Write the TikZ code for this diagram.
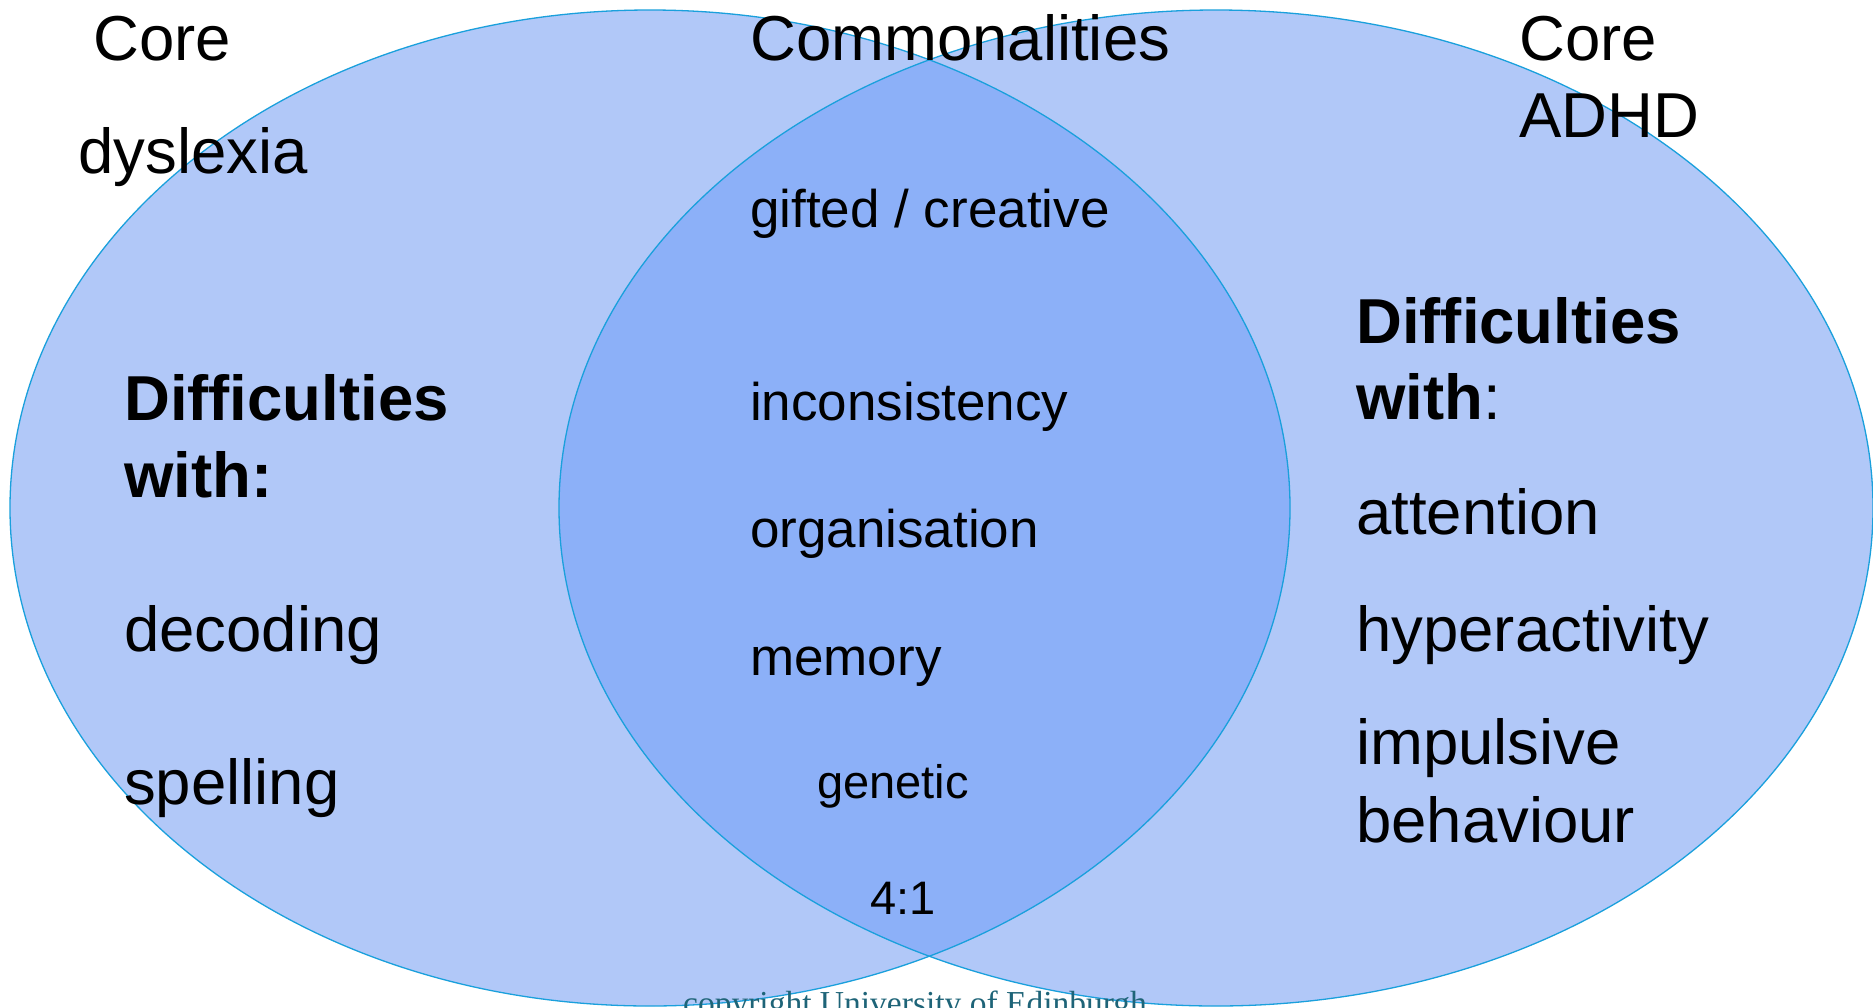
\documentclass[tikz,border=0pt]{standalone}
\usepackage{fontspec}
\setmainfont{Liberation Sans}
\newfontfamily\copyfont{Liberation Serif}
\definecolor{vennfill}{RGB}{177,200,248}
\definecolor{vennmid}{RGB}{140,176,248}
\definecolor{vennline}{RGB}{26,160,220}
\definecolor{copyteal}{RGB}{30,100,120}
\begin{document}
\begin{tikzpicture}[x=1pt,y=-1pt,
  txt/.style={anchor=base west, inner sep=0pt, text=black},
  big/.style={txt, font=\fontsize{63.5}{76}\selectfont},
  bigbold/.style={txt, font=\fontsize{63.5}{76}\selectfont\bfseries},
  mid/.style={txt, font=\fontsize{53}{64}\selectfont},
  small/.style={txt, font=\fontsize{47}{56}\selectfont},
  outline/.style={draw=vennline, line width=1.3pt}]
\useasboundingbox (0,0) rectangle (1873,1007);
\clip (0,0) rectangle (1873,1007);
\fill[white] (0,0) rectangle (1873,1007);

% the two sets
\coordinate (dys) at (650,508);
\coordinate (adhd) at (1216,508);
\fill[vennfill] (dys) ellipse [x radius=640, y radius=498];
\fill[vennfill] (adhd) ellipse [x radius=657, y radius=498];
\begin{scope}
  \clip (dys) ellipse [x radius=640, y radius=498];
  \fill[vennmid] (adhd) ellipse [x radius=657, y radius=498];
\end{scope}
\path[outline] (dys) ellipse [x radius=640, y radius=498];
\path[outline] (adhd) ellipse [x radius=657, y radius=498];

% headings
\node[big] (coreL) at (93,60) {Core};
\node[big] (dyslexia) at (78,173) {dyslexia};
\node[big] (common) at (750,60) {Commonalities};
\node[big] (coreR) at (1519,60) {Core};
\node[big] (adhdlbl) at (1519,137) {ADHD};

% dyslexia side
\node[bigbold] (diffL) at (124,420) {Difficulties};
\node[bigbold] (withL) at (124,497) {with:};
\node[big] (decoding) at (124,651) {decoding};
\node[big] (spelling) at (124,804) {spelling};

% shared features
\node[mid] (gifted) at (750,227) {gifted / creative};
\node[mid] (incons) at (750,420) {inconsistency};
\node[mid] (organ) at (750,547) {organisation};
\node[mid] (memory) at (750,675) {memory};
\node[small] (genetic) at (817,798) {genetic};
\node[small] (ratio) at (870,914) {4:1};

% ADHD side
\node[bigbold] (diffR) at (1356,343) {Difficulties};
\node[big] (withR) at (1356,419) {\textbf{with}:};
\node[big] (attention) at (1356,534) {attention};
\node[big] (hyper) at (1356,651) {hyperactivity};
\node[big] (impulsive) at (1356,764) {impulsive};
\node[big] (behaviour) at (1356,842) {behaviour};

% footer
\node[anchor=base west, inner sep=0pt, text=copyteal, font=\copyfont\fontsize{33.5}{40}\selectfont] (copy) at (683,1014) {copyright University of Edinburgh};
\end{tikzpicture}
\end{document}
